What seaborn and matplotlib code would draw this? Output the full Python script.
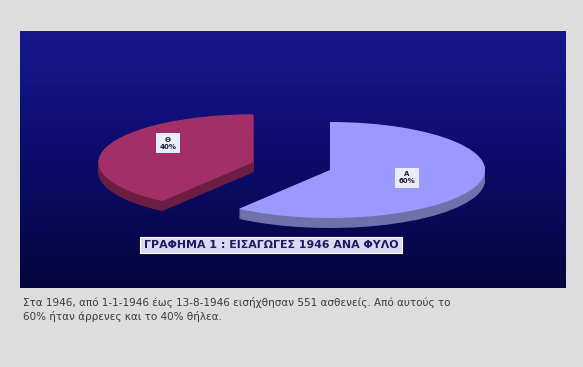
import numpy as np
import matplotlib
matplotlib.use("Agg")
import matplotlib.pyplot as plt
import seaborn as sns
from matplotlib.colors import LinearSegmentedColormap

# Admissions for 1946 by sex
categories = ["Α", "Θ"]
shares = [60, 40]
title_text = "ΓΡΑΦΗΜΑ 1 : ΕΙΣΑΓΩΓΕΣ 1946 ΑΝΑ ΦΥΛΟ"
caption_lines = [
    "Στα 1946, από 1-1-1946 έως 13-8-1946 εισήχθησαν 551 ασθενείς. Από αυτούς το",
    "60% ήταν άρρενες και το 40% θήλεα.",
]

# slice styling
top_colors = ["#9999ff", "#a32f69"]
side_colors = ["#7070aa", "#6c1d42"]
explode = [0.0, 0.52]
label_r = [0.52, 0.58]
label_lift = [0.0, 0.22]

sns.set_theme(style="white")
plt.rcParams["font.family"] = ["DejaVu Sans"]

W, H = 583, 367
fig = plt.figure(figsize=(W / 100, H / 100), dpi=100, facecolor="#dddddd")


def px_rect(x0, y0, x1, y1):
    return [x0 / W, 1 - y1 / H, (x1 - x0) / W, (y1 - y0) / H]


panel = (20, 31, 566, 288)

# navy backdrop with a vertical gradient
bg = fig.add_axes(px_rect(*panel))
grad = np.linspace(0, 1, 256)[:, None]
cmap = LinearSegmentedColormap.from_list("panel", ["#18188f", "#0c0c6c", "#05053c"])
bg.imshow(grad, aspect="auto", cmap=cmap, extent=[0, 1, 0, 1])
bg.axis("off")

# flattened pie: one data unit = rx px horizontally, ry px vertically
cx, cy, rx, ry = 330, 170, 155, 48
ax = fig.add_axes(px_rect(*panel))
ax.patch.set_alpha(0)

depth = 10 / ry
for y in np.linspace(-depth, -0.01, 16):
    ax.pie(shares, colors=side_colors, explode=explode, startangle=90,
           counterclock=False, center=(0, y), wedgeprops=dict(linewidth=0))
ax.pie(shares, colors=top_colors, explode=explode, startangle=90,
       counterclock=False, center=(0, 0), wedgeprops=dict(linewidth=0))

ax.set_aspect("auto")
ax.set_xlim((panel[0] - cx) / rx, (panel[2] - cx) / rx)
ax.set_ylim((cy - panel[3]) / ry, (cy - panel[1]) / ry)
ax.axis("off")

total = sum(shares)
start = 90.0
for cat, val, ex, lr, lift in zip(categories, shares, explode, label_r, label_lift):
    sweep = 360.0 * val / total
    mid = np.deg2rad(start - sweep / 2)
    start -= sweep
    ox, oy = ex * np.cos(mid), ex * np.sin(mid)
    tx, ty = ox + lr * np.cos(mid), oy + lr * np.sin(mid) + lift
    ax.text(tx, ty, f"{cat}\n{val / total * 100:.0f}%", ha="center", va="center",
            fontsize=5, fontweight="bold", color="#1c1c3c", linespacing=1.2,
            bbox=dict(boxstyle="square,pad=0.5", fc="#ececf6", ec="none"))

fig.text(271 / W, 1 - 245 / H, title_text, ha="center", va="center",
         fontsize=7.9, fontweight="bold", color="#1a1a66",
         bbox=dict(boxstyle="square,pad=0.3", fc="#dadaf4", ec="#ffffff", lw=0.8))

for i, line in enumerate(caption_lines):
    fig.text(23 / W, 1 - (303 + 13 * i) / H, line, ha="left", va="center",
             fontsize=7.5, color="#3a3a3a")

fig.savefig("out.png", dpi=100, facecolor=fig.get_facecolor())
